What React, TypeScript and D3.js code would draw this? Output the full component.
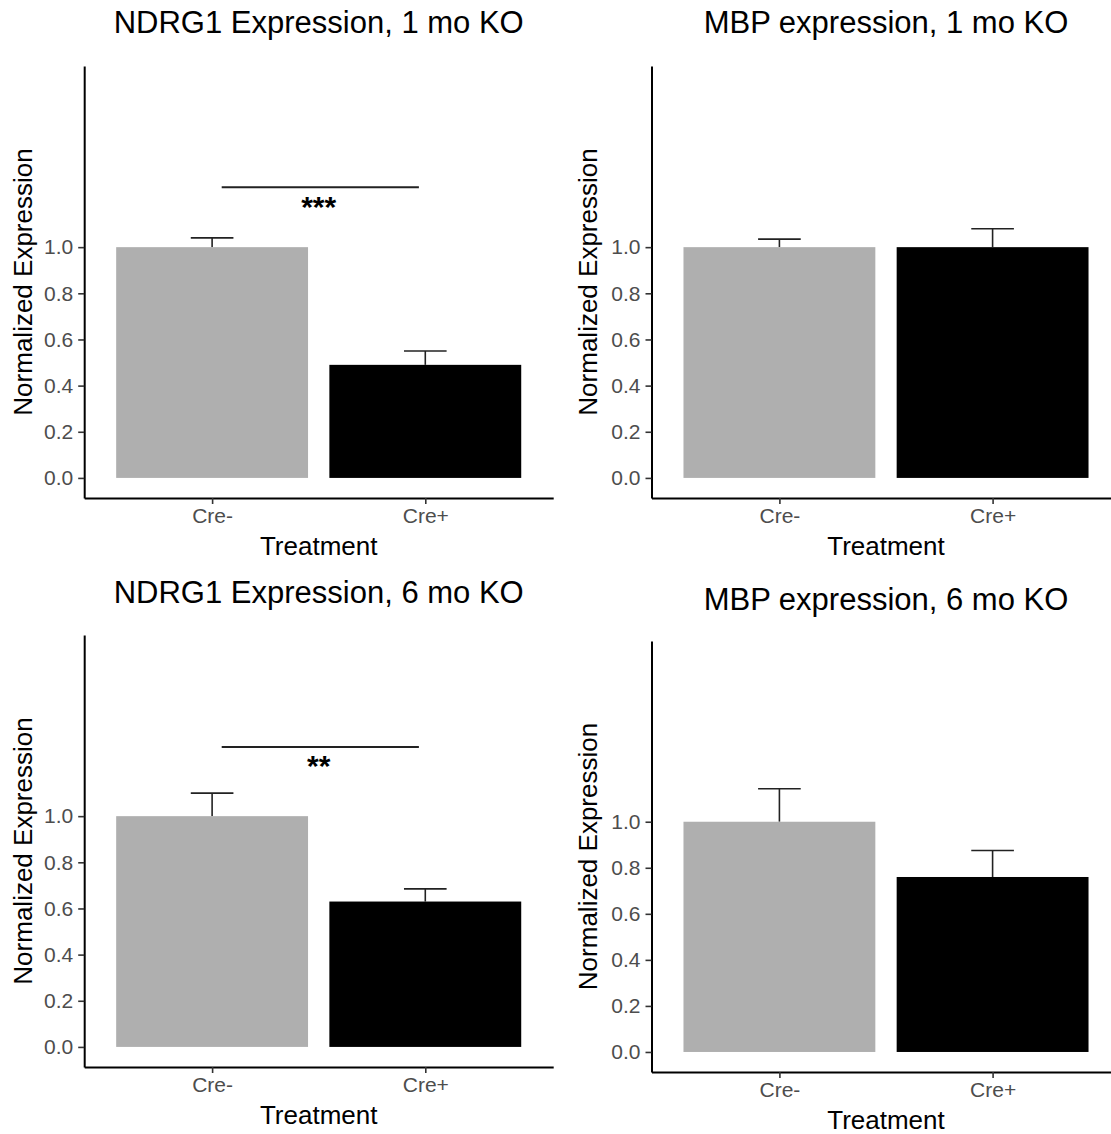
import React, { useEffect, useRef } from "react";
import * as d3 from "d3";

// Treatment groups and bar fills
const categories = ["Cre-", "Cre+"];
const barColors = ["#AFAFAF", "#000000"];
const yTicks = [0, 0.2, 0.4, 0.6, 0.8, 1.0];

const titles = [
  "NDRG1 Expression, 1 mo KO",
  "MBP expression, 1 mo KO",
  "NDRG1 Expression, 6 mo KO",
  "MBP expression, 6 mo KO",
];

// Mean normalized expression and standard error per group
const ndrg1OneMonthMean = [1.0, 0.49];
const ndrg1OneMonthSe = [0.04, 0.06];
const mbpOneMonthMean = [1.0, 1.0];
const mbpOneMonthSe = [0.035, 0.08];
const ndrg1SixMonthMean = [1.0, 0.63];
const ndrg1SixMonthSe = [0.1, 0.055];
const mbpSixMonthMean = [1.0, 0.76];
const mbpSixMonthSe = [0.143, 0.115];

// Significance brackets (null = none)
const sigLabels = ["***", null, "**", null];
const sigHeights = [1.26, null, 1.3, null];

const means = [ndrg1OneMonthMean, mbpOneMonthMean, ndrg1SixMonthMean, mbpSixMonthMean];
const ses = [ndrg1OneMonthSe, mbpOneMonthSe, ndrg1SixMonthSe, mbpSixMonthSe];

// Panel geometry
const panels = [
  { x0: 84.2, yTop: 66, yBottom: 498, titleY: 33, xLabelY: 546, yLabelX: 23 },
  { x0: 651.5, yTop: 66, yBottom: 498, titleY: 33, xLabelY: 546, yLabelX: 588 },
  { x0: 84.2, yTop: 635, yBottom: 1067, titleY: 603, xLabelY: 1115, yLabelX: 23 },
  { x0: 651.5, yTop: 641, yBottom: 1072, titleY: 610, xLabelY: 1120, yLabelX: 588 },
];

const FONT = "'Liberation Sans', Arial, Helvetica, sans-serif";
const W = 1111;
const H = 1134;

export default function App() {
  const ref = useRef<SVGSVGElement>(null);

  useEffect(() => {
    const svg = d3.select(ref.current);
    svg.selectAll("*").remove();
    svg.append("rect").attr("width", W).attr("height", H).attr("fill", "#fff");

    panels.forEach((p, pi) => {
      const g = svg.append("g");
      const x = d3.scaleLinear().domain([0.4, 2.6]).range([p.x0, p.x0 + 469]);
      const y = d3.scaleLinear().domain([-0.087, 1.785]).range([p.yBottom, p.yTop]);
      const unit = x(2) - x(1);
      const barW = 0.9 * unit;
      const capW = 0.2 * unit;
      const m = means[pi];
      const s = ses[pi];

      // error bars (upper half visible above bar)
      categories.forEach((c, i) => {
        const cx = x(i + 1);
        g.append("line")
          .attr("x1", cx).attr("x2", cx)
          .attr("y1", y(m[i])).attr("y2", y(m[i] + s[i]))
          .attr("stroke", "#222").attr("stroke-width", 1.6);
        g.append("line")
          .attr("x1", cx - capW / 2).attr("x2", cx + capW / 2)
          .attr("y1", y(m[i] + s[i])).attr("y2", y(m[i] + s[i]))
          .attr("stroke", "#222").attr("stroke-width", 1.6);
      });

      // bars
      g.selectAll("rect.bar")
        .data(categories)
        .enter()
        .append("rect")
        .attr("class", "bar")
        .attr("x", (_, i) => x(i + 1) - barW / 2)
        .attr("width", barW)
        .attr("y", (_, i) => y(m[i]))
        .attr("height", (_, i) => y(0) - y(m[i]))
        .attr("fill", (_, i) => barColors[i]);

      // axes
      const yAxis = d3.axisLeft(y)
        .tickValues(yTicks)
        .tickFormat(d3.format(".1f"))
        .tickSizeInner(6)
        .tickSizeOuter(0)
        .tickPadding(5);
      const ya = g.append("g").attr("transform", `translate(${p.x0},0)`).call(yAxis);
      ya.select(".domain").attr("stroke", "#000").attr("stroke-width", 2);
      ya.selectAll(".tick line").attr("stroke", "#333").attr("stroke-width", 1.6);
      ya.selectAll(".tick text")
        .attr("fill", "#4D4D4D")
        .style("font-family", FONT)
        .style("font-size", "21px");

      const xAxis = d3.axisBottom(x)
        .tickValues([1, 2])
        .tickFormat((_, i) => categories[i])
        .tickSizeInner(6)
        .tickSizeOuter(0)
        .tickPadding(4);
      const xa = g.append("g").attr("transform", `translate(0,${p.yBottom})`).call(xAxis);
      xa.select(".domain").attr("stroke", "#000").attr("stroke-width", 2);
      xa.selectAll(".tick line").attr("stroke", "#333").attr("stroke-width", 1.6);
      xa.selectAll(".tick text")
        .attr("fill", "#4D4D4D")
        .style("font-family", FONT)
        .style("font-size", "21px");

      // titles and axis labels
      const cx = (x(1) + x(2)) / 2;
      g.append("text")
        .attr("x", cx).attr("y", p.titleY)
        .attr("text-anchor", "middle")
        .style("font-family", FONT).style("font-size", "31px")
        .attr("fill", "#000")
        .text(titles[pi]);
      g.append("text")
        .attr("x", cx).attr("y", p.xLabelY)
        .attr("text-anchor", "middle")
        .attr("dominant-baseline", "central")
        .style("font-family", FONT).style("font-size", "26px")
        .attr("fill", "#000")
        .text("Treatment");
      const ymid = (p.yTop + p.yBottom) / 2;
      g.append("text")
        .attr("transform", `translate(${p.yLabelX},${ymid}) rotate(-90)`)
        .attr("text-anchor", "middle")
        .attr("dominant-baseline", "central")
        .style("font-family", FONT).style("font-size", "26px")
        .attr("fill", "#000")
        .text("Normalized Expression");

      // significance bracket
      const lab = sigLabels[pi];
      const h = sigHeights[pi];
      if (lab && h != null) {
        g.append("line")
          .attr("x1", x(1.045)).attr("x2", x(1.97))
          .attr("y1", y(h)).attr("y2", y(h))
          .attr("stroke", "#222").attr("stroke-width", 2);
        g.append("text")
          .attr("x", x(1.5)).attr("y", y(h - 0.128))
          .attr("text-anchor", "middle")
          .style("font-family", FONT).style("font-size", "30px")
          .style("font-weight", "bold")
          .attr("fill", "#000")
          .text(lab);
      }
    });
  }, []);

  return (
    <svg
      ref={ref}
      width={W}
      height={H}
      style={{ position: "absolute", left: 0, top: 0, display: "block" }}
    />
  );
}
